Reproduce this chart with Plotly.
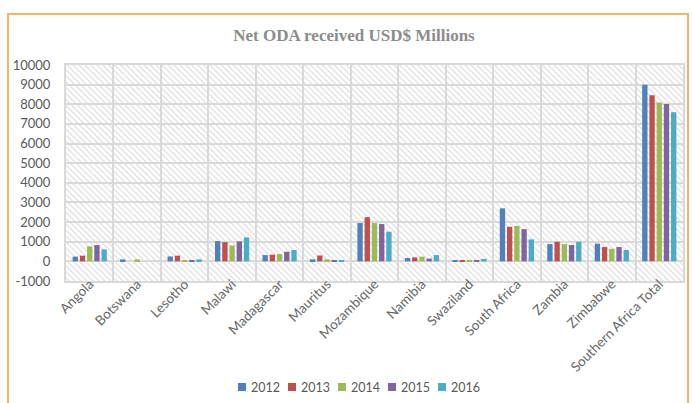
import base64
import plotly.graph_objects as go

categories = ["Angola", "Botswana", "Lesotho", "Malawi", "Madagascar", "Mauritus",
              "Mozambique", "Namibia", "Swaziland", "South Africa", "Zambia",
              "Zimbabwe", "Southern Africa Total"]
years = ["2012", "2013", "2014", "2015", "2016"]
v2012 = [240, 100, 250, 1030, 320, 100, 1950, 170, 50, 2700, 880, 900, 9000]
v2013 = [290, 0, 290, 980, 340, 300, 2250, 200, 70, 1760, 1000, 730, 8460]
v2014 = [760, 100, 70, 810, 370, 100, 1950, 240, 50, 1800, 880, 640, 8085]
v2015 = [830, 0, 70, 1020, 490, 50, 1900, 140, 50, 1640, 830, 730, 8020]
v2016 = [610, 0, 100, 1220, 580, 50, 1510, 320, 120, 1120, 1000, 580, 7590]
series = [v2012, v2013, v2014, v2015, v2016]
colors = ["#4F81BD", "#C0504D", "#9BBB59", "#8064A2", "#4BACC6"]
yticks = list(range(-1000, 10001, 1000))
ytick_labels = [str(v) for v in yticks]

W, H = 692, 403
L, R, T, B = 66, 9, 65, 122
PW, PH = W - L - R, H - T - B


def px_x(px):
    return (px - L) / PW


def px_y(py):
    return (H - B - py) / PH


fig = go.Figure()
for name, vals, col in zip(years, series, colors):
    fig.add_trace(go.Bar(x=categories, y=vals, name=name, marker_color=col,
                         marker_line_width=0, showlegend=False))

svg = ('<svg xmlns="http://www.w3.org/2000/svg" width="%d" height="%d" '
       'viewBox="0 0 %d %d" preserveAspectRatio="none">'
       '<defs><pattern id="p" width="4.2" height="4.2" patternUnits="userSpaceOnUse" '
       'patternTransform="rotate(-45)"><rect width="1.4" height="4.2" fill="#e2e2e2"/></pattern></defs>'
       '<rect width="%d" height="%d" fill="url(#p)"/></svg>') % (PW, PH, PW, PH, PW, PH)
src = "data:image/svg+xml;base64," + base64.b64encode(svg.encode()).decode()

shapes = [dict(type="rect", xref="paper", yref="paper",
               x0=px_x(8), x1=px_x(688), y0=px_y(420), y1=px_y(14),
               line=dict(color="#F5B461", width=2), fillcolor="rgba(0,0,0,0)",
               layer="above")]
annotations = []
for i, (name, col) in enumerate(zip(years, colors)):
    x0 = 238 + 50 * i
    shapes.append(dict(type="rect", xref="paper", yref="paper",
                       x0=px_x(x0), x1=px_x(x0 + 8), y0=px_y(391), y1=px_y(383),
                       line=dict(width=0), fillcolor=col))
    annotations.append(dict(text=name, xref="paper", yref="paper", x=px_x(x0 + 10.5),
                            y=px_y(387.5), xanchor="left", yanchor="middle",
                            showarrow=False, font=dict(size=12.5, color="#595959")))

fig.update_layout(
    width=W, height=H,
    margin=dict(l=L, r=R, t=T, b=B, autoexpand=False),
    paper_bgcolor="white", plot_bgcolor="white",
    barmode="group", bargap=0.24, bargroupgap=0.26,
    font=dict(family="Lato, Liberation Sans, sans-serif", color="#595959", size=12),
    title=dict(text="<b>Net ODA received USD$ Millions</b>", x=354 / W, xanchor="center",
               xref="container", yref="container", y=1 - 35 / H, yanchor="middle",
               font=dict(family="Liberation Serif, serif", size=17, color="#8c8c8c")),
    showlegend=False,
    images=[dict(source=src, xref="paper", yref="paper", x=0, y=1, sizex=1, sizey=1,
                 xanchor="left", yanchor="top", sizing="stretch", layer="below")],
    shapes=shapes,
    annotations=annotations,
)
fig.update_xaxes(tickson="boundaries", showgrid=True, gridcolor="#d9d9d9", gridwidth=2,
                 tickangle=-45, ticks="", showline=True, mirror=True,
                 linecolor="#d9d9d9", linewidth=2, automargin=False,
                 ticklabelstandoff=-12,
                 tickfont=dict(size=13.5, color="#666666"))
fig.update_yaxes(range=[-1000, 10000], tickvals=yticks, ticktext=ytick_labels,
                 showgrid=True, automargin=False,
                 gridcolor="#d9d9d9", gridwidth=2, zeroline=True, zerolinecolor="#d9d9d9",
                 zerolinewidth=2, showline=True, mirror=True, linecolor="#d9d9d9",
                 linewidth=2, ticks="", ticklabelstandoff=11,
                 tickfont=dict(size=13, color="#595959"))

fig.write_html("out.html", config={"displayModeBar": False},
               post_script="document.body.style.margin='0';document.body.style.overflow='hidden';")
